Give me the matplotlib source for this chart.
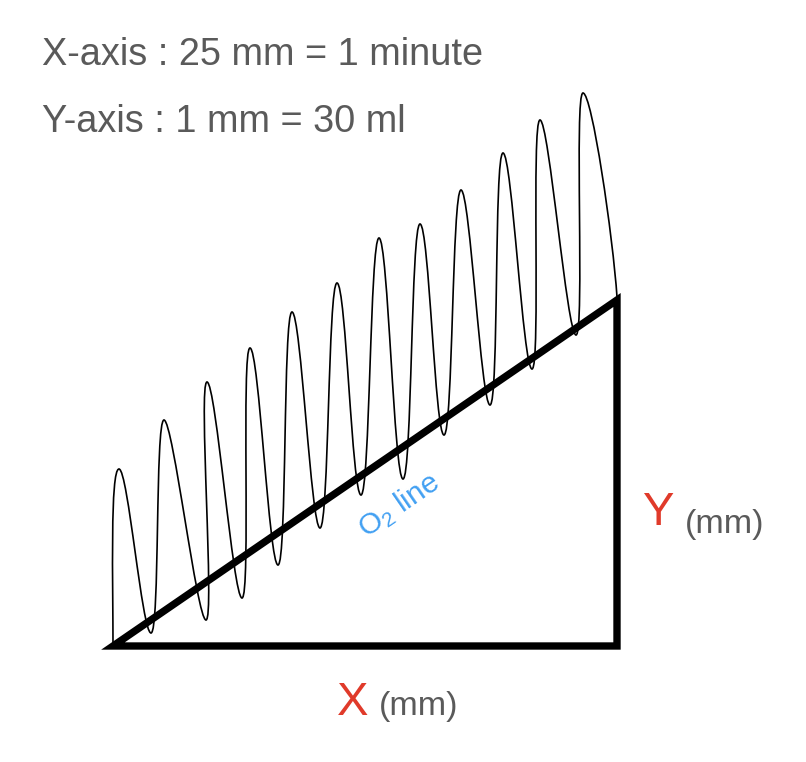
import numpy as np
import matplotlib.pyplot as plt
from matplotlib.path import Path
from matplotlib.patches import PathPatch, Polygon

plt.rcParams['font.family'] = ['Liberation Sans', 'DejaVu Sans']

# triangle legs, in px measured from the bottom-left corner
x_leg = 504
y_leg = 346

# spirometer trace: peaks and troughs, measured from the same corner
peak_x = [6, 51, 94, 137, 179, 224, 266, 307, 348, 390, 427, 470]
peak_y = [177, 226, 264, 298, 334, 363, 408, 422, 456, 493, 526, 553]
trough_x = [38, 93, 129, 165, 207, 248, 290, 331, 377, 419, 463]
trough_y = [13, 26, 48, 81, 118, 151, 167, 211, 241, 277, 311]
trace_start = (0, 0)
trace_end = (504, 349)

scale_lines = ['X-axis : 25 mm = 1 minute', 'Y-axis : 1 mm = 30 ml']

GRAY = '#5a5a5a'
RED = '#e03a2a'
BLUE = '#42a0f2'


def trace_path(h=9):
    pts = [trace_start]
    for i in range(len(peak_x)):
        pts.append((peak_x[i], peak_y[i]))
        if i < len(trough_x):
            pts.append((trough_x[i], trough_y[i]))
    pts.append(trace_end)

    verts = [pts[0]]
    codes = [Path.MOVETO]
    for k in range(1, len(pts)):
        ax_, ay_ = pts[k - 1]
        bx_, by_ = pts[k]
        c1 = (ax_ + h, ay_)
        c2 = (bx_ - h, by_)
        if k == 1:
            c1 = (ax_, ay_ + 60)
        if k == len(pts) - 1:
            c2 = (bx_ - 4, by_ + 60)
        verts += [c1, c2, (bx_, by_)]
        codes += [Path.CURVE4] * 3
    return Path(verts, codes)


fig = plt.figure(figsize=(8.06, 7.62), dpi=100)
ax = fig.add_axes([0, 0, 1, 1])
ax.set_xlim(-113, 806 - 113)
ax.set_ylim(646 - 762, 646)
ax.axis('off')

ax.add_patch(PathPatch(trace_path(), fill=False, lw=1.2, ec='black'))

tri = Polygon([(0, 0), (x_leg, 0), (x_leg, y_leg)], closed=True,
              fill=False, ec='black', lw=5.3, joinstyle='miter')
ax.add_patch(tri)

# scale notes
ax.text(-71, 581, scale_lines[0], fontsize=27.3, color=GRAY, va='baseline')
ax.text(-71, 514, scale_lines[1], fontsize=27.3, color=GRAY, va='baseline')

# axis letters
ax.text(224, -69, 'X', fontsize=34, color=RED, va='baseline')
ax.text(266, -69, '(mm)', fontsize=24.5, color=GRAY, va='baseline')
ax.text(530, 121, 'Y', fontsize=34, color=RED, va='baseline')
ax.text(572, 113, '(mm)', fontsize=24.5, color=GRAY, va='baseline')

angle = np.degrees(np.arctan2(y_leg, x_leg))
ax.text(286, 141, r'$\mathregular{O_2}$ line', fontsize=21.5, color=BLUE,
        rotation=angle, rotation_mode='anchor', ha='center', va='center')

fig.savefig('out.png', dpi=100)
